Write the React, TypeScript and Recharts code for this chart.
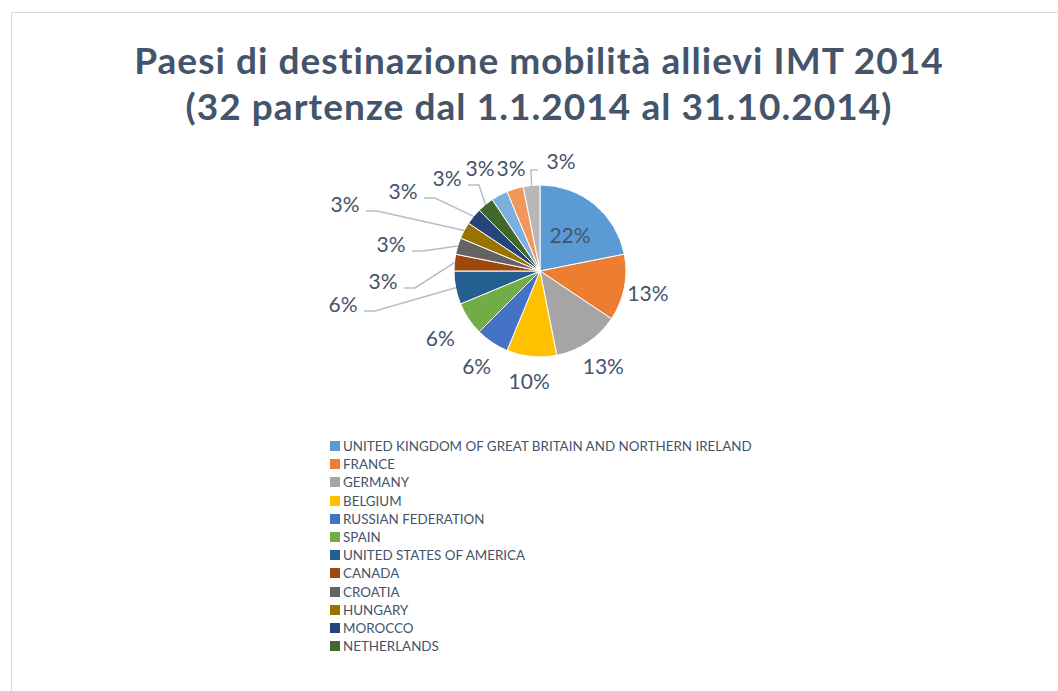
import React from 'react';
import { PieChart, Pie, Cell, Legend } from 'recharts';

// dati: 32 partenze dal 1.1.2014 al 31.10.2014
const countries = [
  'UNITED KINGDOM OF GREAT BRITAIN AND NORTHERN IRELAND',
  'FRANCE',
  'GERMANY',
  'BELGIUM',
  'RUSSIAN FEDERATION',
  'SPAIN',
  'UNITED STATES OF AMERICA',
  'CANADA',
  'CROATIA',
  'HUNGARY',
  'MOROCCO',
  'NETHERLANDS',
  'ALTRO PAESE 1',
  'ALTRO PAESE 2',
  'ALTRO PAESE 3',
];
const departures = [7, 4, 4, 3, 2, 2, 2, 1, 1, 1, 1, 1, 1, 1, 1];
const percentLabels = ['22%', '13%', '13%', '10%', '6%', '6%', '6%', '3%', '3%', '3%', '3%', '3%', '3%', '3%', '3%'];
const legendCount = 12;

const colors = [
  '#5B9BD5', '#ED7D31', '#A5A5A5', '#FFC000', '#4472C4', '#70AD47',
  '#255E91', '#9E480E', '#636363', '#997300', '#264478', '#43682B',
  '#7CAFDD', '#F1975A', '#B7B7B7',
];

const textColor = '#44546A';
const font = 'Lato, "Open Sans", sans-serif';

type LabelPlace =
  | { kind: 'inside'; r: number }
  | { kind: 'outside'; gap: number }
  | { kind: 'leader'; dx: number; dy: number; side?: 'left' | 'right' };

// etichette spostate a mano come nell'originale
const labelPlaces: LabelPlace[] = [
  { kind: 'inside', r: 0.55 },
  { kind: 'outside', gap: 24 },
  { kind: 'outside', gap: 28 },
  { kind: 'outside', gap: 24 },
  { kind: 'outside', gap: 28 },
  { kind: 'outside', gap: 34 },
  { kind: 'leader', dx: -197, dy: 32, side: 'left' },
  { kind: 'leader', dx: -157, dy: 9, side: 'left' },
  { kind: 'leader', dx: -149, dy: -28, side: 'left' },
  { kind: 'leader', dx: -195, dy: -68, side: 'left' },
  { kind: 'leader', dx: -137, dy: -81, side: 'left' },
  { kind: 'leader', dx: -93, dy: -94, side: 'left' },
  { kind: 'leader', dx: -60, dy: -104 },
  { kind: 'leader', dx: -29, dy: -104 },
  { kind: 'leader', dx: 21, dy: -111, side: 'right' },
];

const data = countries.map((name, i) => ({ name, value: departures[i] }));

const RAD = Math.PI / 180;

function renderLabel(props: any) {
  const { cx, cy, midAngle, outerRadius, index } = props;
  const place = labelPlaces[index];
  const at = (r: number) => [cx + r * Math.cos(-midAngle * RAD), cy + r * Math.sin(-midAngle * RAD)];
  let lx = 0;
  let ly = 0;
  let line: string | null = null;
  if (place.kind === 'inside') {
    [lx, ly] = at(outerRadius * place.r);
  } else if (place.kind === 'outside') {
    [lx, ly] = at(outerRadius + place.gap);
  } else {
    lx = cx + place.dx;
    ly = cy + place.dy;
    const [ex, ey] = at(outerRadius);
    if (place.side === 'left') {
      line = `${ex},${ey} ${lx + 32},${ly + 8} ${lx + 21},${ly + 8}`;
    } else if (place.side === 'right') {
      line = `${ex},${ey} ${lx - 30},${ly + 10} ${lx - 23},${ly + 10}`;
    }
  }
  return (
    <g key={`lbl-${index}`}>
      {line && <polyline points={line} fill="none" stroke="#B4BECB" strokeWidth={1.5} />}
      <text
        x={lx}
        y={ly}
        textAnchor="middle"
        dominantBaseline="central"
        fill={textColor}
        fontSize={21}
        fontFamily={font}
      >
        {percentLabels[index]}
      </text>
    </g>
  );
}

function LegendBox() {
  return (
    <div style={{ fontFamily: font, fontSize: 13.4, color: textColor }}>
      {countries.slice(0, legendCount).map((name, i) => (
        <div key={name} style={{ display: 'flex', alignItems: 'center', height: 18.2 }}>
          <span style={{ width: 10, height: 10, background: colors[i], marginRight: 3, flexShrink: 0 }} />
          <span style={{ whiteSpace: 'nowrap' }}>{name}</span>
        </div>
      ))}
    </div>
  );
}

export default function App() {
  return (
    <div style={{ position: 'absolute', left: 0, top: 0, width: 1058, height: 691, overflow: 'hidden', background: '#fff' }}>
      <div
        style={{
          position: 'absolute',
          left: 11,
          top: 12,
          width: 1100,
          height: 720,
          border: '1px solid #D9D9D9',
        }}
      />
      <div
        style={{
          position: 'absolute',
          left: 0,
          top: 37,
          width: 1078,
          textAlign: 'center',
          fontFamily: font,
          fontWeight: 700,
          fontSize: 37,
          letterSpacing: 1.05,
          lineHeight: '46px',
          color: textColor,
        }}
      >
        Paesi di destinazione mobilità allievi IMT 2014
        <br />
        (32 partenze dal 1.1.2014 al 31.10.2014)
      </div>
      <div style={{ position: 'absolute', left: 0, top: 0 }}>
        <PieChart width={1058} height={691} margin={{ top: 0, right: 0, bottom: 0, left: 0 }}>
          <Pie
            data={data}
            dataKey="value"
            nameKey="name"
            cx={540}
            cy={271}
            outerRadius={86}
            startAngle={90}
            endAngle={-270}
            stroke="#FFFFFF"
            strokeWidth={1}
            label={renderLabel}
            labelLine={false}
            isAnimationActive={false}
          >
            {data.map((d, i) => (
              <Cell key={d.name} fill={colors[i]} />
            ))}
          </Pie>
          <Legend
            content={() => <LegendBox />}
            wrapperStyle={{ left: 330, top: 437, width: 600, bottom: 'auto' }}
          />
        </PieChart>
      </div>
    </div>
  );
}
